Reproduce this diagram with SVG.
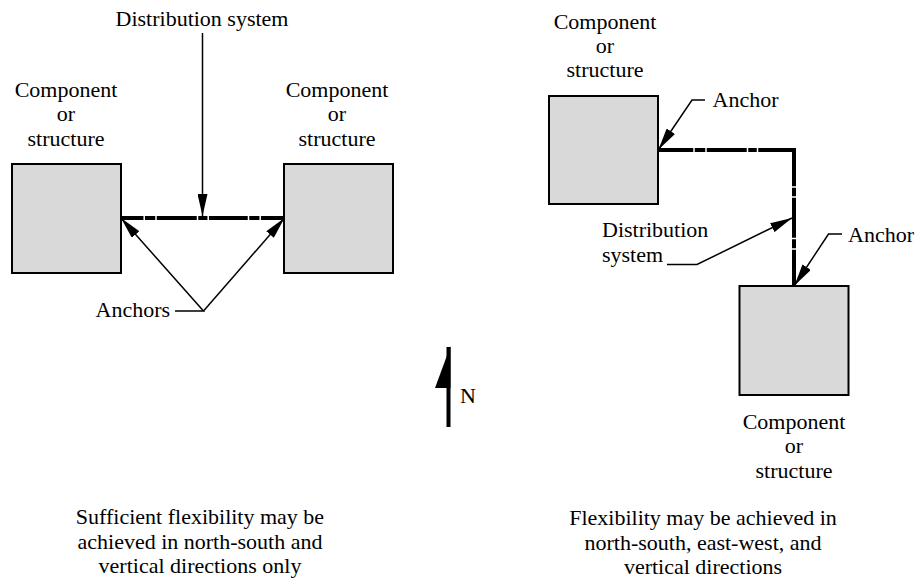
<svg xmlns="http://www.w3.org/2000/svg" width="916" height="580" viewBox="0 0 916 580" font-family="'Liberation Serif', Tinos, 'Times New Roman', Times, 'Nimbus Roman', 'DejaVu Serif', serif">
<style>
  text { font-family: "Liberation Serif", Tinos, "Times New Roman", Times, "Nimbus Roman", "DejaVu Serif", serif; font-size: 22px; fill: #000; }
  .mid { text-anchor: middle; }
  .box { fill: #d9d9d9; stroke: #000; stroke-width: 2; }
  .pipe { fill: none; stroke: #000; stroke-width: 4; stroke-linejoin: miter; }
  .gap { stroke: #fff; stroke-width: 1.5; }
  .lead { fill: none; stroke: #000; stroke-width: 1.5; }
</style>
<defs>
  <marker id="ah" viewBox="0 0 22 10" refX="22" refY="5" markerWidth="22" markerHeight="10" markerUnits="userSpaceOnUse" orient="auto">
    <path d="M0,0 L22,5 L0,10 z" fill="#000"/>
  </marker>
</defs>
<rect width="916" height="580" fill="#fff"/>

<!-- Left diagram -->
<g id="box-west">
  <rect class="box" x="12" y="164" width="109" height="109"/>
  <text class="mid" x="66" y="97">Component</text>
  <text class="mid" x="66" y="121">or</text>
  <text class="mid" x="66" y="145.5">structure</text>
</g>
<g id="box-east">
  <rect class="box" x="284" y="164" width="109" height="109"/>
  <text class="mid" x="337" y="97">Component</text>
  <text class="mid" x="337" y="121">or</text>
  <text class="mid" x="337" y="145.5">structure</text>
</g>
<g id="label-dist-left">
  <text class="mid" x="202" y="26">Distribution system</text>
</g>
<g id="label-anchors">
  <text x="95.5" y="317">Anchors</text>
</g>

<!-- Right diagram -->
<g id="box-ne">
  <rect class="box" x="549" y="96" width="109" height="108"/>
  <text class="mid" x="605" y="28.5">Component</text>
  <text class="mid" x="605" y="52.5">or</text>
  <text class="mid" x="605" y="77">structure</text>
</g>
<g id="box-se">
  <rect class="box" x="739.5" y="286" width="109" height="109"/>
  <text class="mid" x="794" y="428.5">Component</text>
  <text class="mid" x="794" y="453">or</text>
  <text class="mid" x="794" y="478">structure</text>
</g>
<g id="label-anchor-top">
  <text x="712.5" y="107">Anchor</text>
</g>
<g id="label-anchor-bottom">
  <text x="848" y="241.5">Anchor</text>
</g>
<g id="label-dist-right">
  <text x="602" y="237">Distribution</text>
  <text x="602" y="261.5">system</text>
</g>

<!-- North arrow -->
<g id="north">
  <rect x="446.5" y="347" width="4" height="80" fill="#000"/>
  <polygon points="450.5,346 435,388 450.5,388" fill="#000"/>
  <text x="460" y="403">N</text>
</g>

<!-- Captions -->
<g id="caption-left">
  <text class="mid" x="200" y="523.5">Sufficient flexibility may be</text>
  <text class="mid" x="200" y="548.5">achieved in north-south and</text>
  <text class="mid" x="200" y="573">vertical directions only</text>
</g>
<g id="caption-right">
  <text class="mid" x="703" y="524.5">Flexibility may be achieved in</text>
  <text class="mid" x="703" y="549.5">north-south, east-west, and</text>
  <text class="mid" x="703" y="573.5">vertical directions</text>
</g>

<!-- Connectors -->
<g id="connectors">
  <!-- left pipe -->
  <line class="pipe" x1="121" y1="218" x2="284" y2="218"/>
  <line class="gap" x1="144.2" y1="215" x2="144.2" y2="221"/>
  <line class="gap" x1="156" y1="215" x2="156" y2="221"/>
  <line class="gap" x1="197.5" y1="215" x2="197.5" y2="221"/>
  <line class="gap" x1="208.2" y1="215" x2="208.2" y2="221"/>
  <line class="gap" x1="248.5" y1="215" x2="248.5" y2="221"/>
  <line class="gap" x1="260.2" y1="215" x2="260.2" y2="221"/>
  <!-- left leaders -->
  <line class="lead" x1="202.5" y1="33" x2="202.5" y2="216" marker-end="url(#ah)"/>
  <polyline class="lead" points="175,311 203.5,311 121,218" marker-end="url(#ah)"/>
  <line class="lead" x1="203.5" y1="311" x2="284.5" y2="218" marker-end="url(#ah)"/>

  <!-- right pipe -->
  <path class="pipe" d="M658,150 H794 V286"/>
  <line class="gap" x1="694" y1="147" x2="694" y2="153"/>
  <line class="gap" x1="706" y1="147" x2="706" y2="153"/>
  <line class="gap" x1="747.5" y1="147" x2="747.5" y2="153"/>
  <line class="gap" x1="757.5" y1="147" x2="757.5" y2="153"/>
  <line class="gap" x1="791" y1="187" x2="797" y2="187"/>
  <line class="gap" x1="791" y1="197" x2="797" y2="197"/>
  <line class="gap" x1="791" y1="238.5" x2="797" y2="238.5"/>
  <line class="gap" x1="791" y1="249" x2="797" y2="249"/>
  <!-- right leaders -->
  <polyline class="lead" points="705,100 692,100 658.5,149.5" marker-end="url(#ah)"/>
  <polyline class="lead" points="842,234 828.5,234 794.5,285.5" marker-end="url(#ah)"/>
  <polyline class="lead" points="667,264.5 697,264.5 792,218" marker-end="url(#ah)"/>
</g>
</svg>
